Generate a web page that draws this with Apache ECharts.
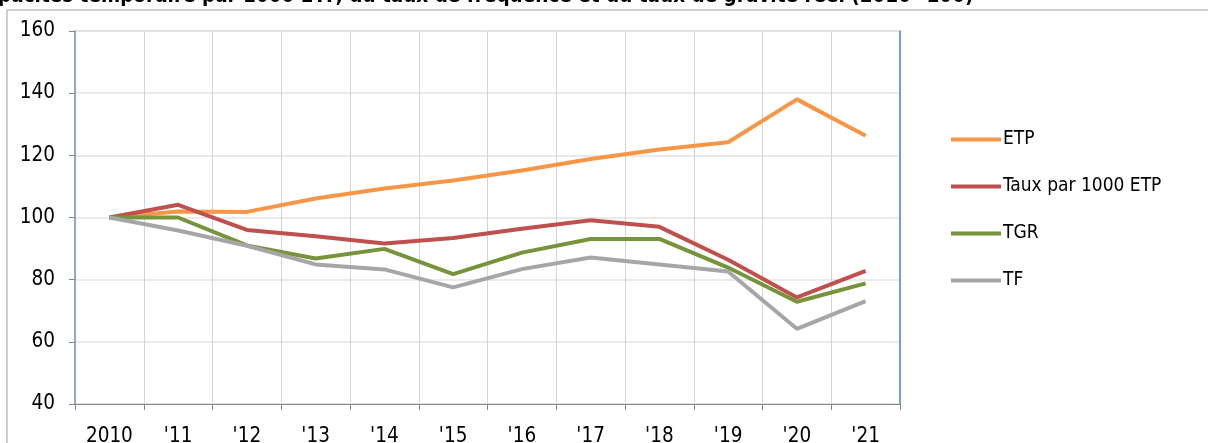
<!DOCTYPE html>
<html>
<head>
<meta charset="utf-8">
<script src="https://cdn.jsdelivr.net/npm/echarts@6/dist/echarts.min.js"></script>
<style>
  html, body { margin: 0; padding: 0; background: #fff; }
  #chart { width: 1208px; height: 443px; }
</style>
</head>
<body>
<div id="chart"></div>
<script>
const years = ['2010', "'11", "'12", "'13", "'14", "'15", "'16", "'17", "'18", "'19", "'20", "'21"]
const etp = [100, 101.9, 101.8, 106.1, 109.3, 111.9, 115.1, 118.8, 121.9, 124.2, 138.0, 126.3]
const tauxEtp = [100, 104.1, 96.0, 94.0, 91.6, 93.4, 96.4, 99.1, 97.0, 86.4, 74.3, 82.8]
const tgr = [100, 100, 91.0, 86.8, 89.9, 81.8, 88.7, 93.1, 93.1, 83.9, 72.9, 78.8]
const tf = [100, 95.8, 90.9, 84.9, 83.3, 77.5, 83.4, 87.1, 84.9, 82.6, 64.2, 73.1]
const yTicks = { min: 40, max: 160, interval: 20 }

const font = 'DejaVu Sans Condensed, DejaVu Sans, sans-serif'

const chart = echarts.init(document.getElementById('chart'))

function line(name, data, color) {
  return {
    name,
    type: 'line',
    data,
    symbol: 'none',
    lineStyle: { color, width: 4 },
    itemStyle: { color },
    animation: false,
  }
}

chart.setOption({
  animation: false,
  textStyle: { fontFamily: font },
  graphic: [
    {
      type: 'rect',
      shape: { x: 7, y: 10, width: 1300, height: 500 },
      style: { fill: 'none', stroke: '#BFBFBF', lineWidth: 1.5 },
      silent: true,
    },
    {
      type: 'text',
      left: -2,
      top: -14,
      style: {
        text: 'pacités temporaire par 1000 ETP, du taux de fréquence et du taux de gravité réel (2010=100)',
        font: 'bold 20.5px ' + font,
        fill: '#000',
      },
    },
  ],
  grid: {
    left: 75,
    right: 308,
    top: 31,
    bottom: 39,
    outerBoundsMode: 'none',
    containLabel: false,
    show: true,
    borderColor: '#B4C7E7',
    borderWidth: 1,
  },
  legend: {
    orient: 'vertical',
    left: 946,
    top: 125,
    icon: 'rect',
    itemWidth: 50,
    itemHeight: 4,
    itemGap: 28,
    textStyle: { fontSize: 19, color: '#000', fontFamily: font, padding: [0, 0, 0, -3] },
    data: ['ETP', 'Taux par 1000 ETP', 'TGR', 'TF'],
  },
  xAxis: {
    type: 'category',
    data: years,
    boundaryGap: true,
    axisLine: { lineStyle: { color: '#868686', width: 1 } },
    axisTick: { show: true, interval: 0, length: 6, lineStyle: { color: '#868686' } },
    splitLine: { show: true, interval: 0, lineStyle: { color: '#D4D4D4', width: 1 } },
    axisLabel: { color: '#000', fontSize: 20.5, margin: 22, interval: 0 },
  },
  yAxis: [
    {
      type: 'value',
      min: yTicks.min,
      max: yTicks.max,
      interval: yTicks.interval,
      axisLine: { show: true, lineStyle: { color: '#8497B0', width: 1.5 } },
      axisTick: { show: true, length: 6, lineStyle: { color: '#868686' } },
      splitLine: { lineStyle: { color: '#E3E3E3', width: 1.5 } },
      axisLabel: { color: '#000', fontSize: 20.5, margin: 20 },
    },
    {
      type: 'value',
      position: 'right',
      min: yTicks.min,
      max: yTicks.max,
      interval: yTicks.interval,
      axisLine: { show: true, lineStyle: { color: '#5B8AC7', width: 1.5 } },
      axisTick: { show: false },
      splitLine: { show: false },
      axisLabel: { show: false },
    },
  ],
  series: [
    line('ETP', etp, '#F79646'),
    line('Taux par 1000 ETP', tauxEtp, '#C0504D'),
    line('TGR', tgr, '#77933C'),
    line('TF', tf, '#A6A6A6'),
  ],
})
</script>
</body>
</html>
